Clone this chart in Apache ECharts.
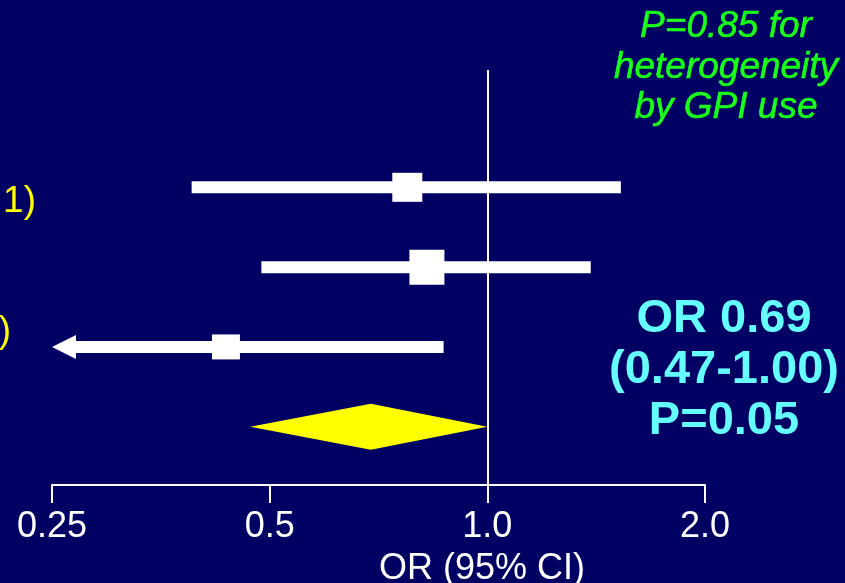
<!DOCTYPE html>
<html><head><meta charset="utf-8">
<script src="https://cdn.jsdelivr.net/npm/echarts@6/dist/echarts.min.js"></script>
<style>html,body{margin:0;padding:0;background:#010163;}#c{width:845px;height:583px;}</style>
</head><body><div id="c"></div>
<script>
// ---- data ----
const rows = [1, 2, 3];
const estimates = [0.775, 0.825, 0.435];
const lower = [0.39, 0.487, 0.25];
const upper = [1.53, 1.39, 0.87];
const truncatedLow = [false, false, true];
const pooledRow = 4;
const pooledEstimate = 0.69;
const pooledLower = 0.47;
const pooledUpper = 1.00;
const referenceValue = 1.0;
const tickValues = [0.25, 0.5, 1, 2];
const tickLabels = ['0.25', '0.5', '1.0', '2.0'];
const axisTitle = 'OR (95% CI)';
const heterogeneityText = ['P=0.85 for', 'heterogeneity', 'by GPI use'];
const pooledText = ['OR 0.69', '(0.47-1.00)', 'P=0.05'];
const rowLabels = ['1)', ')'];

// ---- chart ----
const FONT = "'Liberation Sans', Arial, sans-serif";
const chart = echarts.init(document.getElementById('c'), null, {renderer: 'canvas'});

const ciData = rows.map((r, i) => [lower[i], upper[i], r, truncatedLow[i] ? 1 : 0]);
const pointData = rows.map((r, i) => [estimates[i], r]);
const squareSizes = [[30, 29], [35, 35], [28, 25]];

function renderCI(params, api) {
  const y = api.value(2);
  const p1 = api.coord([api.value(0), y]);
  const p2 = api.coord([api.value(1), y]);
  const h = 12;
  const children = [];
  if (api.value(3) === 1) {
    const head = 24;
    children.push({type: 'rect', shape: {x: p1[0] + head - 1, y: p1[1] - h / 2, width: p2[0] - p1[0] - head + 1, height: h}, style: {fill: '#ffffff'}});
    children.push({type: 'polygon', shape: {points: [[p1[0], p1[1]], [p1[0] + head, p1[1] - 12], [p1[0] + head, p1[1] + 12]]}, style: {fill: '#ffffff'}});
  } else {
    children.push({type: 'rect', shape: {x: p1[0], y: p1[1] - h / 2, width: p2[0] - p1[0], height: h}, style: {fill: '#ffffff'}});
  }
  return {type: 'group', children};
}

function renderDiamond(params, api) {
  const y = api.value(3);
  const pl = api.coord([api.value(0), y]);
  const pe = api.coord([api.value(1), y]);
  const ph = api.coord([api.value(2), y]);
  const hh = 23;
  return {type: 'polygon', shape: {points: [[pl[0], pl[1]], [pe[0], pe[1] - hh], [ph[0], ph[1]], [pe[0], pe[1] + hh]]}, style: {fill: '#ffff00'}};
}

function txt(text, x, y, opts) {
  return {type: 'text', x: x, y: y, silent: true, z: 10, style: Object.assign({text: text, fontFamily: FONT, align: 'center', verticalAlign: 'middle'}, opts)};
}

const graphics = [];
const greenY = [27, 68, 108];
heterogeneityText.forEach((t, i) => graphics.push(txt(t, 726, greenY[i], {fill: '#1aff1a', fontSize: 37, fontStyle: 'italic', stroke: '#1aff1a', lineWidth: 0.6, shadowColor: 'rgba(0,0,20,0.95)', shadowOffsetX: 2, shadowOffsetY: 2, shadowBlur: 0})));
const cyanY = [319, 370, 421];
pooledText.forEach((t, i) => graphics.push(txt(t, 724, cyanY[i], {fill: '#66ffff', fontSize: 47, fontWeight: 'bold'})));
graphics.push(txt(rowLabels[0], 36, 202, {fill: '#ffff00', fontSize: 37, align: 'right'}));
graphics.push(txt(rowLabels[1], 11, 332, {fill: '#ffff00', fontSize: 37, align: 'right'}));
graphics.push(txt(axisTitle, 482, 569, {fill: '#ffffff', fontSize: 36}));

chart.setOption({
  backgroundColor: '#010163',
  animation: false,
  grid: {left: 52, right: 140, top: 70, bottom: 98},
  xAxis: {
    type: 'log', logBase: 2, min: 0.25, max: 2, position: 'bottom',
    axisLine: {show: true, onZero: false, lineStyle: {color: '#ffffff', width: 2}},
    axisTick: {show: true, inside: false, length: 18, lineStyle: {color: '#ffffff', width: 2}},
    splitLine: {show: false}, minorTick: {show: false},
    axisLabel: {
      color: '#ffffff', fontSize: 36, fontFamily: FONT, margin: 24,
      formatter: function (v) {
        const k = tickValues.findIndex(t => Math.abs(t - v) < 1e-6);
        return k >= 0 ? tickLabels[k] : '';
      }
    }
  },
  yAxis: {type: 'value', inverse: true, min: -0.47, max: 4.73, show: false, splitLine: {show: false}},
  graphic: graphics,
  series: [
    {
      type: 'custom', renderItem: renderCI, data: ciData, encode: {x: [0, 1], y: 2}, z: 3,
      markLine: {silent: true, symbol: ['none', 'none'], label: {show: false}, lineStyle: {color: '#ffffff', width: 2, type: 'solid'}, data: [{xAxis: referenceValue}], z: 2}
    },
    {
      type: 'scatter', data: pointData, symbol: 'rect', z: 4,
      symbolSize: function (v, p) { return squareSizes[p.dataIndex]; },
      itemStyle: {color: '#ffffff', opacity: 1}
    },
    {
      type: 'custom', renderItem: renderDiamond, data: [[pooledLower, pooledEstimate, pooledUpper, pooledRow]], encode: {x: [0, 1, 2], y: 3}, z: 3
    }
  ]
});
</script>
</body></html>
